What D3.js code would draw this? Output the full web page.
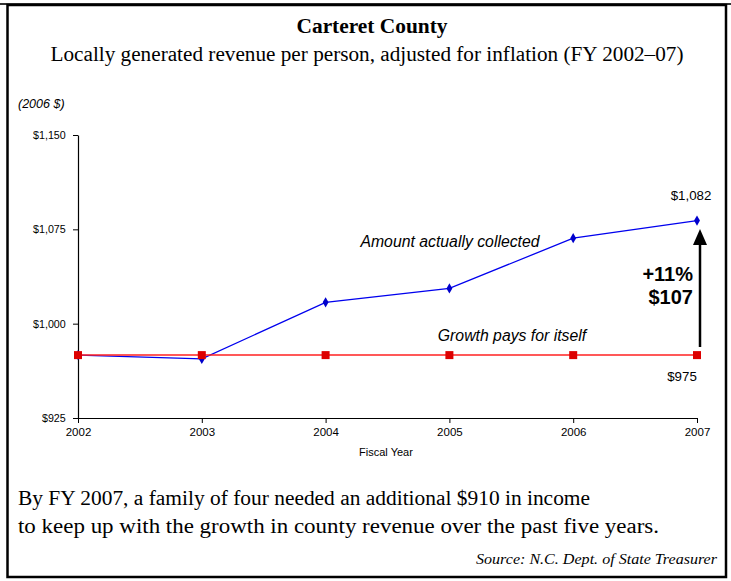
<!DOCTYPE html>
<html><head><meta charset="utf-8">
<script src="https://cdn.jsdelivr.net/npm/d3@7"></script>
<style>body{margin:0;background:#fff}svg{display:block}</style>
</head><body>
<script>
const years = [2002, 2003, 2004, 2005, 2006, 2007];
const collected = [975, 972, 1017, 1028, 1068, 1082];
const breakeven = [975, 975, 975, 975, 975, 975];
const yTicks = [925, 1000, 1075, 1150];

const W = 731, H = 581;
const svg = d3.select("body").append("svg").attr("width", W).attr("height", H);
const serif = "'Liberation Serif', 'Times New Roman', serif";
const sans = "'Liberation Sans', Arial, sans-serif";

// frame
svg.append("line").attr("x1",0).attr("x2",W).attr("y1",4).attr("y2",4).attr("stroke","#333").attr("stroke-width",2);
svg.append("rect").attr("x",7.5).attr("y",5).attr("width",718.5).attr("height",572).attr("fill","none").attr("stroke","#000").attr("stroke-width",2.5);

svg.append("text").attr("x",372).attr("y",33).attr("text-anchor","middle").attr("font-family",serif).attr("font-weight","bold").attr("font-size",20).attr("textLength",151).attr("lengthAdjust","spacingAndGlyphs").text("Carteret County");
svg.append("text").attr("x",367).attr("y",61).attr("text-anchor","middle").attr("font-family",serif).attr("font-size",20).attr("textLength",633).attr("lengthAdjust","spacingAndGlyphs").text("Locally generated revenue per person, adjusted for inflation (FY 2002–07)");
svg.append("text").attr("x",18).attr("y",108).attr("font-family",sans).attr("font-style","italic").attr("font-size",12.5).text("(2006 $)");

const x = d3.scaleLinear().domain([2002, 2007]).range([78, 697]);
const y = d3.scaleLinear().domain([925, 1150]).range([418, 135]);

const gx = svg.append("g").attr("transform","translate(0,418)")
  .call(d3.axisBottom(x).tickValues(years).tickFormat(d3.format("d")).tickSize(5).tickSizeOuter(0));
gx.selectAll("text").attr("font-family",sans).attr("font-size",11.5).attr("fill","#000").attr("dy","0.85em");
gx.select(".domain").attr("stroke","#000").attr("stroke-width",1.2);
gx.selectAll(".tick line").attr("stroke","#000");

const gy = svg.append("g").attr("transform","translate(78,0)")
  .call(d3.axisLeft(y).tickValues(yTicks).tickFormat(d => "$" + d3.format(",")(d)).tickSize(5).tickSizeOuter(0));
gy.selectAll("text").attr("font-family",sans).attr("font-size",10.7).attr("fill","#000").attr("dx","-0.4em");
gy.select(".domain").attr("stroke","#000").attr("stroke-width",1.2);
gy.selectAll(".tick line").attr("stroke","#000");

svg.append("text").attr("x",386).attr("y",456).attr("text-anchor","middle").attr("font-family",sans).attr("font-size",11).text("Fiscal Year");

const line = d3.line().x((d,i) => x(years[i])).y(d => y(d));
svg.append("path").datum(collected).attr("d",line).attr("fill","none").attr("stroke","#0000ee").attr("stroke-width",1.3);
svg.selectAll(".dm").data(collected).enter().append("path")
  .attr("d",d3.symbol(d3.symbolDiamond, 30)).attr("transform",(d,i)=>`translate(${x(years[i])},${y(d)})`).attr("fill","#0000cc");
svg.append("path").datum(breakeven).attr("d",line).attr("fill","none").attr("stroke","#ff2020").attr("stroke-width",1.5);
svg.selectAll(".sq").data(breakeven).enter().append("rect")
  .attr("x",(d,i)=>x(years[i])-4).attr("y",d=>y(d)-4).attr("width",8).attr("height",8).attr("fill","#dd0000");

svg.append("text").attr("x",450).attr("y",247).attr("text-anchor","middle").attr("font-family",sans).attr("font-style","italic").attr("font-size",15.8).text("Amount actually collected");
svg.append("text").attr("x",512).attr("y",341).attr("text-anchor","middle").attr("font-family",sans).attr("font-style","italic").attr("font-size",15.8).text("Growth pays for itself");
svg.append("text").attr("x",x(2007)-6).attr("y",200).attr("text-anchor","middle").attr("font-family",sans).attr("font-size",13.3).text("$" + d3.format(",")(collected[5]));
svg.append("text").attr("x",x(2007)-15).attr("y",381).attr("text-anchor","middle").attr("font-family",sans).attr("font-size",13.3).text("$" + breakeven[5]);

// arrow
const ax = x(2007)+3;
svg.append("line").attr("x1",ax).attr("x2",ax).attr("y1",347).attr("y2",243).attr("stroke","#000").attr("stroke-width",2.5);
svg.append("path").attr("d",`M${ax},229 L${ax-7},245 L${ax+7},245 Z`).attr("fill","#000");
svg.append("text").attr("x",693).attr("y",281).attr("text-anchor","end").attr("font-family",sans).attr("font-weight","bold").attr("font-size",20).text("+11%");
svg.append("text").attr("x",693).attr("y",304).attr("text-anchor","end").attr("font-family",sans).attr("font-weight","bold").attr("font-size",20).text("$107");

svg.append("text").attr("x",18).attr("y",505).attr("font-family",serif).attr("font-size",20).attr("textLength",572).attr("lengthAdjust","spacingAndGlyphs").text("By FY 2007, a family of four needed an additional $910 in income");
svg.append("text").attr("x",18).attr("y",533).attr("font-family",serif).attr("font-size",20).attr("textLength",641).attr("lengthAdjust","spacingAndGlyphs").text("to keep up with the growth in county revenue over the past five years.");
svg.append("text").attr("x",717).attr("y",564).attr("text-anchor","end").attr("font-family",serif).attr("font-style","italic").attr("font-size",14).attr("textLength",241).attr("lengthAdjust","spacingAndGlyphs").text("Source: N.C. Dept. of State Treasurer");
</script>
</body></html>
